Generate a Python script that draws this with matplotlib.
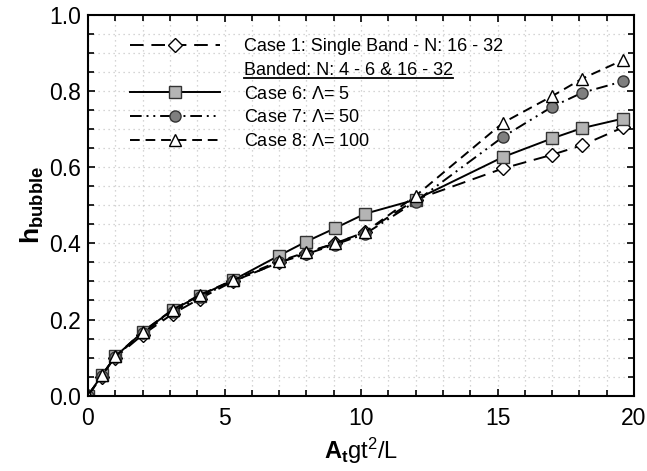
import numpy as np
import matplotlib
matplotlib.use('Agg')
from matplotlib import pyplot as plt
from matplotlib.lines import Line2D

plt.rcParams['font.family'] = ['Liberation Sans', 'DejaVu Sans']
plt.rcParams['mathtext.fontset'] = 'custom'
plt.rcParams['mathtext.rm'] = 'Liberation Sans'
plt.rcParams['mathtext.it'] = 'Liberation Sans'
plt.rcParams['mathtext.bf'] = 'Liberation Sans:bold'

# data
time = [0, 0.5, 1, 2, 3.1, 4.1, 5.3, 7, 8, 9.05, 10.15, 12, 15.2, 17, 18.1, 19.6]
case1 = [0, 0.05, 0.10, 0.16, 0.215, 0.255, 0.30, 0.35, 0.375, 0.40, 0.43, 0.515, 0.597, 0.633, 0.658, 0.705]
case6 = [0, 0.053, 0.103, 0.167, 0.225, 0.263, 0.303, 0.368, 0.405, 0.44, 0.478, 0.515, 0.627, 0.676, 0.703, 0.728]
case7 = [0, 0.052, 0.102, 0.165, 0.22, 0.26, 0.30, 0.35, 0.372, 0.397, 0.425, 0.51, 0.68, 0.759, 0.796, 0.826]
case8 = [0, 0.053, 0.103, 0.168, 0.226, 0.265, 0.303, 0.353, 0.377, 0.40, 0.43, 0.525, 0.717, 0.787, 0.833, 0.882]

labels = ['Case 1: Single Band - N: 16 - 32',
          'Banded: N: 4 - 6 & 16 - 32',
          'Case 6: $\\Lambda$= 5',
          'Case 7: $\\Lambda$= 50',
          'Case 8: $\\Lambda$= 100']

fig = plt.figure(figsize=(6.47, 4.71), dpi=100)
ax = fig.add_axes([0.136, 0.16, 0.844, 0.808])

ms = 8
l1, = ax.plot(time, case1, color='black', lw=1.4, dashes=(7, 4),
              marker='D', ms=7, mfc='white', mec='black', mew=1.0)
l6, = ax.plot(time, case6, color='black', lw=1.4, ls='-',
              marker='s', ms=ms, mfc='#b4b4b4', mec='#333333', mew=1.0)
l7, = ax.plot(time, case7, color='black', lw=1.4, dashes=(6, 2.5, 1, 2.5, 1, 2.5),
              marker='o', ms=ms, mfc='#7f7f7f', mec='#333333', mew=1.0)
l8, = ax.plot(time, case8, color='black', lw=1.4, dashes=(5, 3),
              marker='^', ms=ms, mfc='white', mec='black', mew=1.0)

blank = Line2D([], [], ls='none', marker=None)

ax.set_xlim(0, 20)
ax.set_ylim(0, 1.0)
ax.set_xticks(np.arange(0, 21, 5))
ax.set_xticks(np.arange(0, 21, 1), minor=True)
ax.set_yticks(np.arange(0, 1.01, 0.2))
ax.set_yticks(np.arange(0, 1.01, 0.05), minor=True)
ax.set_yticklabels(['0.0', '0.2', '0.4', '0.6', '0.8', '1.0'])
ax.grid(which='both', color='#c8c8c8', ls=(0, (1, 3)), lw=0.9)
ax.tick_params(which='both', direction='in', top=True, right=True, width=1.2, labelsize=16.5)
ax.tick_params(which='major', length=5)
ax.tick_params(which='minor', length=4)
ax.tick_params(axis='x', pad=8)
ax.tick_params(axis='y', pad=5)
for s in ax.spines.values():
    s.set_linewidth(1.5)

ax.set_xlabel('$\\mathbf{A_t}$gt$^2$/L', fontsize=17, labelpad=4)
ax.set_ylabel('$\\mathbf{h_{bubble}}$', fontsize=19, labelpad=2)

leg = ax.legend([l1, blank, l6, l7, l8], labels, loc='upper left',
                bbox_to_anchor=(0.064, 0.958), frameon=False, fontsize=13,
                handlelength=5.0, handletextpad=1.28, labelspacing=0.37,
                borderaxespad=0)

# underline the 'Banded' row
fig.canvas.draw()
txt = leg.get_texts()[1]
bb = txt.get_window_extent(fig.canvas.get_renderer())
inv = fig.transFigure.inverted()
(x0, y0), (x1, y1) = inv.transform([[bb.x0, bb.y0], [bb.x1, bb.y0]])
fig.add_artist(Line2D([x0, x1], [y0 + 0.002, y0 + 0.002], color='black', lw=1.3,
                      transform=fig.transFigure))

fig.savefig('out.png', dpi=100)
